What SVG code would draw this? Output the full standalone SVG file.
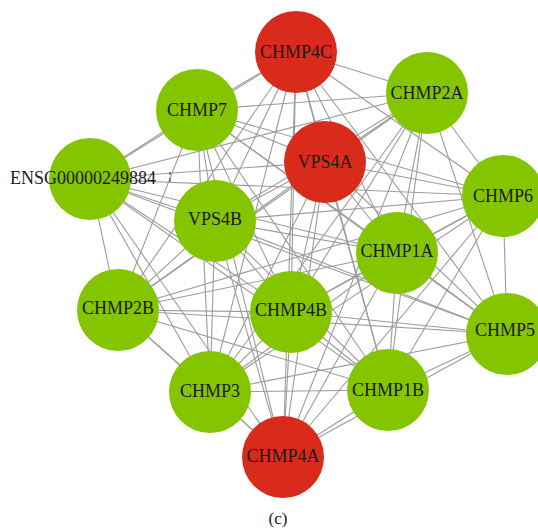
<svg xmlns="http://www.w3.org/2000/svg" width="538" height="531" viewBox="0 0 538 531">
<style>
.e line{stroke:#9c9c9c;stroke-width:1.1}
.g{fill:#84c500}
.r{fill:#d92b1b}
text{font-family:"Liberation Serif","Times New Roman",serif;font-size:18px;fill:#1a1a1a;text-anchor:middle}
</style>
<rect width="538" height="531" fill="#fff"/>
<g id="connectors" class="e">
<line x1="296" y1="52" x2="427" y2="93"/>
<line x1="296" y1="52" x2="197" y2="110"/>
<line x1="296" y1="52" x2="325" y2="162"/>
<line x1="296" y1="52" x2="90" y2="179"/>
<line x1="296" y1="52" x2="503" y2="196"/>
<line x1="296" y1="52" x2="215" y2="221"/>
<line x1="296" y1="52" x2="397" y2="253"/>
<line x1="296" y1="52" x2="118" y2="310"/>
<line x1="296" y1="52" x2="291" y2="312"/>
<line x1="296" y1="52" x2="507" y2="334"/>
<line x1="296" y1="52" x2="210" y2="392"/>
<line x1="296" y1="52" x2="388" y2="390"/>
<line x1="296" y1="52" x2="283" y2="457"/>
<line x1="427" y1="93" x2="197" y2="110"/>
<line x1="427" y1="93" x2="325" y2="162"/>
<line x1="427" y1="93" x2="90" y2="179"/>
<line x1="427" y1="93" x2="503" y2="196"/>
<line x1="427" y1="93" x2="215" y2="221"/>
<line x1="427" y1="93" x2="397" y2="253"/>
<line x1="427" y1="93" x2="118" y2="310"/>
<line x1="427" y1="93" x2="291" y2="312"/>
<line x1="427" y1="93" x2="507" y2="334"/>
<line x1="427" y1="93" x2="210" y2="392"/>
<line x1="427" y1="93" x2="388" y2="390"/>
<line x1="427" y1="93" x2="283" y2="457"/>
<line x1="197" y1="110" x2="325" y2="162"/>
<line x1="197" y1="110" x2="90" y2="179"/>
<line x1="197" y1="110" x2="503" y2="196"/>
<line x1="197" y1="110" x2="215" y2="221"/>
<line x1="197" y1="110" x2="397" y2="253"/>
<line x1="197" y1="110" x2="118" y2="310"/>
<line x1="197" y1="110" x2="291" y2="312"/>
<line x1="197" y1="110" x2="507" y2="334"/>
<line x1="197" y1="110" x2="210" y2="392"/>
<line x1="197" y1="110" x2="388" y2="390"/>
<line x1="197" y1="110" x2="283" y2="457"/>
<line x1="325" y1="162" x2="90" y2="179"/>
<line x1="325" y1="162" x2="503" y2="196"/>
<line x1="325" y1="162" x2="215" y2="221"/>
<line x1="325" y1="162" x2="397" y2="253"/>
<line x1="325" y1="162" x2="118" y2="310"/>
<line x1="325" y1="162" x2="291" y2="312"/>
<line x1="325" y1="162" x2="507" y2="334"/>
<line x1="325" y1="162" x2="210" y2="392"/>
<line x1="325" y1="162" x2="388" y2="390"/>
<line x1="325" y1="162" x2="283" y2="457"/>
<line x1="90" y1="179" x2="503" y2="196"/>
<line x1="90" y1="179" x2="215" y2="221"/>
<line x1="90" y1="179" x2="397" y2="253"/>
<line x1="90" y1="179" x2="118" y2="310"/>
<line x1="90" y1="179" x2="291" y2="312"/>
<line x1="90" y1="179" x2="507" y2="334"/>
<line x1="90" y1="179" x2="210" y2="392"/>
<line x1="90" y1="179" x2="388" y2="390"/>
<line x1="90" y1="179" x2="283" y2="457"/>
<line x1="503" y1="196" x2="215" y2="221"/>
<line x1="503" y1="196" x2="397" y2="253"/>
<line x1="503" y1="196" x2="118" y2="310"/>
<line x1="503" y1="196" x2="291" y2="312"/>
<line x1="503" y1="196" x2="507" y2="334"/>
<line x1="503" y1="196" x2="210" y2="392"/>
<line x1="503" y1="196" x2="388" y2="390"/>
<line x1="503" y1="196" x2="283" y2="457"/>
<line x1="215" y1="221" x2="397" y2="253"/>
<line x1="215" y1="221" x2="118" y2="310"/>
<line x1="215" y1="221" x2="291" y2="312"/>
<line x1="215" y1="221" x2="507" y2="334"/>
<line x1="215" y1="221" x2="210" y2="392"/>
<line x1="215" y1="221" x2="388" y2="390"/>
<line x1="215" y1="221" x2="283" y2="457"/>
<line x1="397" y1="253" x2="118" y2="310"/>
<line x1="397" y1="253" x2="291" y2="312"/>
<line x1="397" y1="253" x2="507" y2="334"/>
<line x1="397" y1="253" x2="210" y2="392"/>
<line x1="397" y1="253" x2="388" y2="390"/>
<line x1="397" y1="253" x2="283" y2="457"/>
<line x1="118" y1="310" x2="291" y2="312"/>
<line x1="118" y1="310" x2="507" y2="334"/>
<line x1="118" y1="310" x2="210" y2="392"/>
<line x1="118" y1="310" x2="388" y2="390"/>
<line x1="118" y1="310" x2="283" y2="457"/>
<line x1="291" y1="312" x2="507" y2="334"/>
<line x1="291" y1="312" x2="210" y2="392"/>
<line x1="291" y1="312" x2="388" y2="390"/>
<line x1="291" y1="312" x2="283" y2="457"/>
<line x1="507" y1="334" x2="210" y2="392"/>
<line x1="507" y1="334" x2="388" y2="390"/>
<line x1="507" y1="334" x2="283" y2="457"/>
<line x1="210" y1="392" x2="388" y2="390"/>
<line x1="210" y1="392" x2="283" y2="457"/>
<line x1="388" y1="390" x2="283" y2="457"/>
</g>
<g id="CHMP4C"><circle class="r" cx="296" cy="52" r="41"/><text x="296" y="58">CHMP4C</text></g>
<g id="CHMP2A"><circle class="g" cx="427" cy="93" r="41"/><text x="427" y="99">CHMP2A</text></g>
<g id="CHMP7"><circle class="g" cx="197" cy="110" r="41"/><text x="197" y="116">CHMP7</text></g>
<g id="VPS4A"><circle class="r" cx="325" cy="162" r="41"/><text x="325" y="168">VPS4A</text></g>
<g id="ENSG00000249884"><circle class="g" cx="90" cy="179" r="41"/><text x="10" y="184" style="text-anchor:start">ENSG00000249884</text><path d="M170 172v3M170 178v4" stroke="#333" stroke-width="1"/></g>
<g id="CHMP6"><circle class="g" cx="503" cy="196" r="41"/><text x="503" y="202">CHMP6</text></g>
<g id="VPS4B"><circle class="g" cx="215" cy="221" r="41"/><text x="215" y="225">VPS4B</text></g>
<g id="CHMP1A"><circle class="g" cx="397" cy="253" r="41"/><text x="397" y="257">CHMP1A</text></g>
<g id="CHMP2B"><circle class="g" cx="118" cy="310" r="41"/><text x="118" y="314">CHMP2B</text></g>
<g id="CHMP4B"><circle class="g" cx="291" cy="312" r="41"/><text x="291" y="316">CHMP4B</text></g>
<g id="CHMP5"><circle class="g" cx="507" cy="334" r="41"/><text x="505" y="336">CHMP5</text></g>
<g id="CHMP3"><circle class="g" cx="210" cy="392" r="41"/><text x="210" y="397">CHMP3</text></g>
<g id="CHMP1B"><circle class="g" cx="388" cy="390" r="41"/><text x="388" y="396">CHMP1B</text></g>
<g id="CHMP4A"><circle class="r" cx="283" cy="457" r="41"/><text x="283" y="462">CHMP4A</text></g>
<text x="278" y="524" style="font-size:17px">(c)</text>
</svg>
